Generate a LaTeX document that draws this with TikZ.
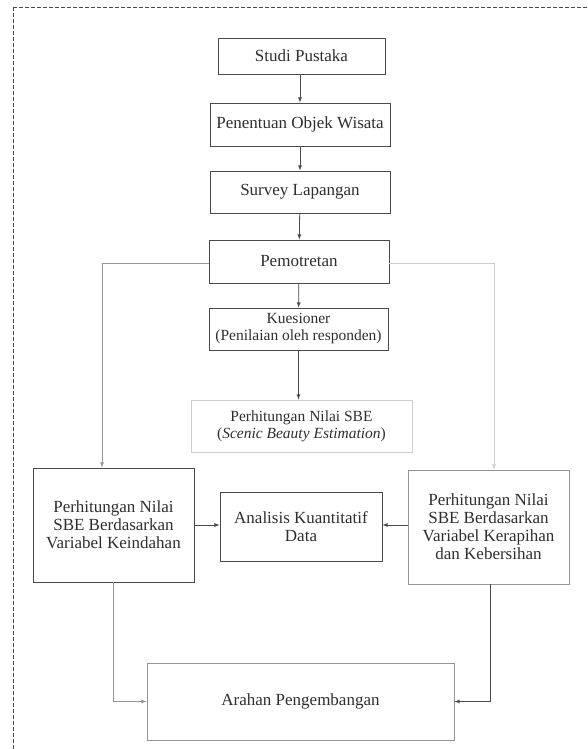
\documentclass[tikz,border=0pt]{standalone}
\usepackage{fontspec}
\setmainfont{Liberation Serif}
\usepackage{tikz}
\usetikzlibrary{arrows}
\tikzset{>=latex}
\usepackage{xcolor}
\definecolor{g1}{HTML}{4A4A4A}
\definecolor{g2}{HTML}{959595}
\definecolor{g3}{HTML}{CDCDCD}
\definecolor{t1}{HTML}{2E2E2E}

\begin{document}
\begin{tikzpicture}[x=1pt,y=-1pt,line width=0.8pt,
  box/.style={draw=g1,align=center,inner sep=0pt,text=t1,font=\fontsize{17}{18}\selectfont},
  small/.style={font=\fontsize{15.5}{17}\selectfont}]
  \useasboundingbox (0,0) rectangle (587,749);
  \draw[g1,line width=0.6pt,dash pattern=on 4pt off 2pt] (13,7) rectangle (600,760);
  % middle column
  \node[box,minimum width=167,minimum height=36] (studi) at (301.5,56) {Studi Pustaka};
  \node[box,minimum width=180,minimum height=43] (objek) at (300,124.5) {Penentuan Objek Wisata};
  \node[box,minimum width=180,minimum height=42] (survey) at (300,192) {Survey Lapangan};
  \node[box,minimum width=180,minimum height=43] (foto) at (299,261.5) {Pemotretan};
  \node[box,small,minimum width=179,minimum height=42] (kues) at (298.5,329) {Kuesioner\\(Penilaian oleh responden)};
  \node[box,small,draw=g3,minimum width=221,minimum height=52] (sbe) at (301.5,426) {Perhitungan Nilai SBE\\(\textit{Scenic Beauty Estimation})};
  % lower row
  \node[box,minimum width=161,minimum height=114] (kiri) at (113.5,525) {Perhitungan Nilai\\SBE Berdasarkan\\Variabel Keindahan};
  \node[box,minimum width=162,minimum height=69] (analisis) at (301,526.5) {Analisis Kuantitatif\\Data};
  \node[box,draw=g2,minimum width=161,minimum height=114] (kanan) at (488.5,527) {Perhitungan Nilai\\SBE Berdasarkan\\Variabel Kerapihan\\dan Kebersihan};
  \node[box,draw=g2,minimum width=307,minimum height=77] (arahan) at (300.5,701.5) {Arahan Pengembangan};
  % arrows
  \draw[->,g1] (studi.south -| 300,0) -- (objek.north -| 300,0);
  \draw[->,g1] (objek) -- (survey);
  \draw[->,g1] (survey) -- (foto);
  \draw[->,g1] (foto) -- (kues);
  \draw[->,g1] (kues) -- (kues |- sbe.north);
  \draw[->,g2] (foto.west |- 0,263) -| ([xshift=-11.5]kiri.north);
  \draw[->,g3] (foto.east |- 0,263) -| ([xshift=5.5]kanan.north);
  \draw[->,g1] (kiri.east) -- (kiri.east -| analisis.west);
  \draw[->,g1] (kanan.west |- 0,525) -- (analisis.east |- 0,525);
  \draw[->,g2] (kiri.south) |- (arahan.west);
  \draw[->,g1] ([xshift=1.5]kanan.south) |- (arahan.east);
\end{tikzpicture}
\end{document}
